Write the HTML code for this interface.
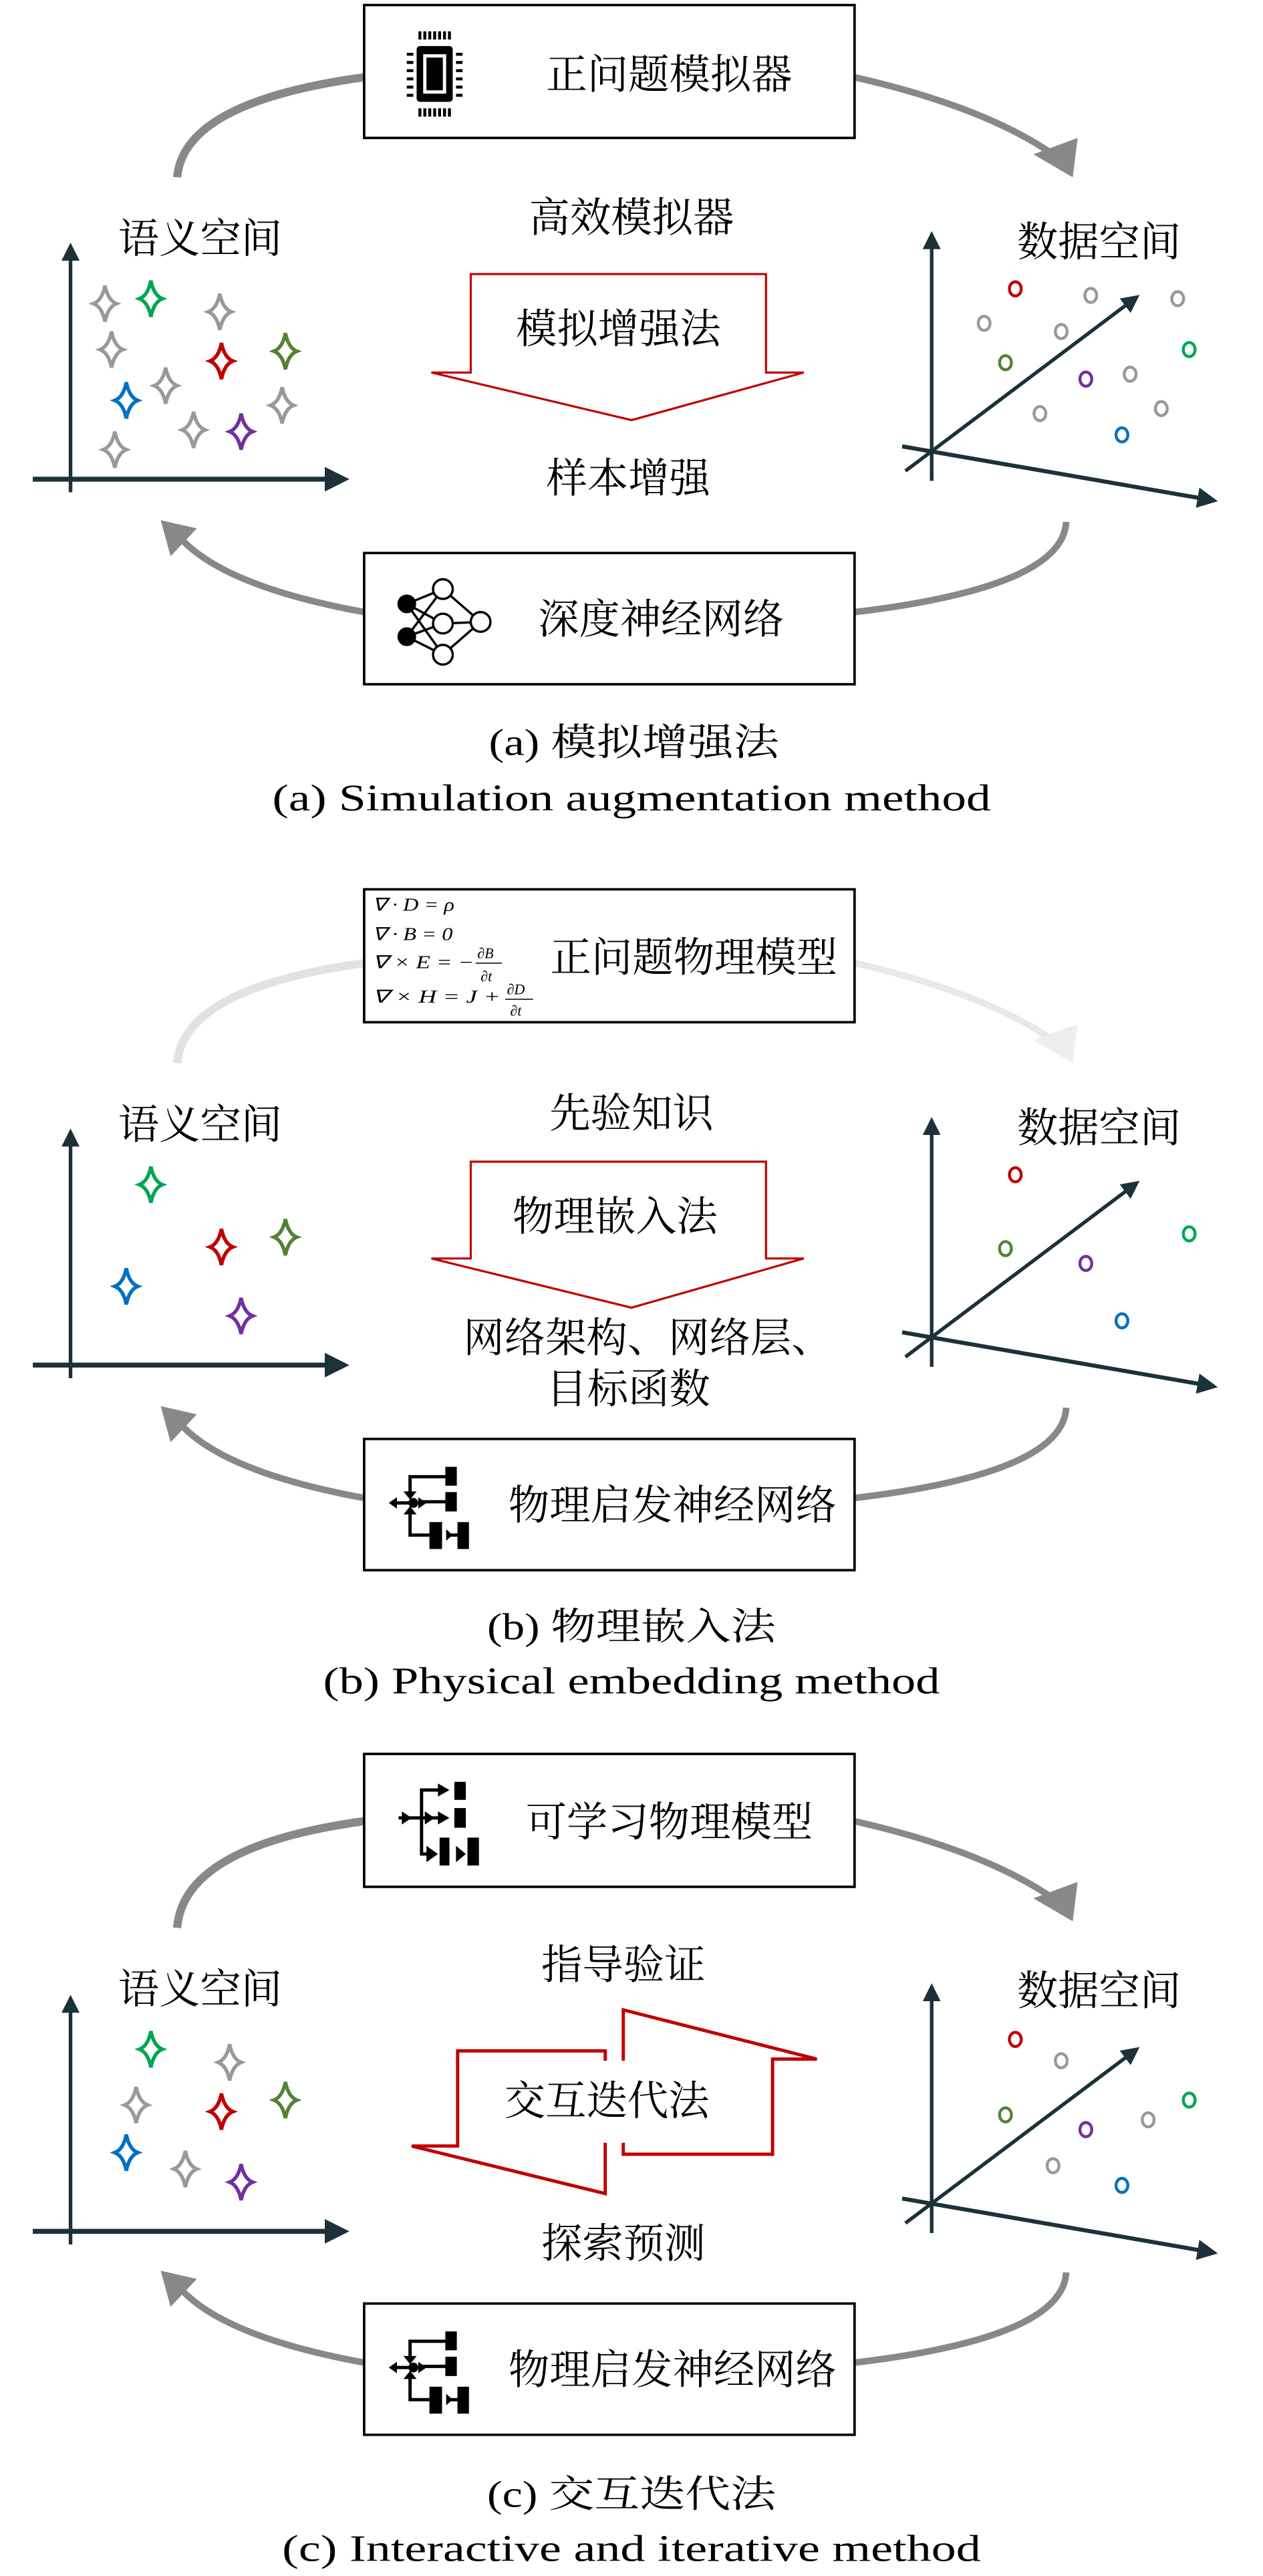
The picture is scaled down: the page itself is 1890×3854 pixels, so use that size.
<!DOCTYPE html>
<html><head><meta charset="utf-8"><style>
html,body{margin:0;padding:0;background:#fff}
svg{display:block}
.cn{font-family:"Noto Serif CJK SC","Liberation Serif","Noto Sans CJK SC",serif;fill:#000}
.cap{font-family:"Liberation Serif","Noto Serif CJK SC",serif;fill:#000}
.eq{font-family:"Liberation Serif",serif;font-style:italic;fill:#000}
</style></head><body>
<svg width="1890" height="3854" viewBox="0 0 770 1570" xmlns="http://www.w3.org/2000/svg">
<defs>
<path id="st" d="M0,-11 Q1.8,-2 7,0 Q1.8,2 0,11 Q-1.8,2 -7,0 Q-1.8,-2 0,-11Z" fill="#fff" stroke-width="2.2"/>
<marker id="ah" viewBox="0 0 10 10" refX="8" refY="5" markerWidth="5" markerHeight="5" orient="auto"><path d="M0,0 L10,5 L0,10Z" fill="#1c313a"/></marker>
<g id="pinn">
 <circle cx="0" cy="0" r="3" fill="#000"/>
 <rect x="19.5" y="-22" width="7" height="11.5" fill="#000"/>
 <rect x="19.5" y="-6.6" width="7" height="11.8" fill="#000"/>
 <rect x="9.8" y="11.7" width="7.7" height="16.4" fill="#000"/>
 <rect x="26.9" y="11.7" width="7" height="16.4" fill="#000"/>
 <path d="M19.5,-16 H-2 V-5 M19.5,-0.7 H4 M9.8,19.6 H-2 V4 M26.9,19.6 H21 M-2,0 H-13" stroke="#000" stroke-width="2" fill="none"/>
 <path d="M-6,-7 L2,-7 L-2,-2Z M3,-3.5 L3,3.5 L8,0Z M-6,7 L2,7 L-2,2Z M-10,-3.5 L-10,3.5 L-15,0Z M20,16 L20,23 L24,19.6Z" fill="#000"/>
</g>
<g id="axL"><line x1="43" y1="0" x2="43" y2="-150" stroke="#1c313a" stroke-width="2.2" marker-end="url(#ah)"/><line x1="20" y1="-8" x2="210" y2="-8" stroke="#1c313a" stroke-width="3" marker-end="url(#ah)"/></g>
<g id="axR"><line x1="568" y1="0" x2="568" y2="-150" stroke="#1c313a" stroke-width="2.2" marker-end="url(#ah)"/><line x1="552" y1="-6" x2="693" y2="-112" stroke="#1c313a" stroke-width="2.2" marker-end="url(#ah)"/><line x1="550" y1="-21" x2="740" y2="12" stroke="#1c313a" stroke-width="2.5" marker-end="url(#ah)"/></g>
</defs>
<rect width="770" height="1570" fill="#fff"/>

<!-- ========== PANEL A ========== -->
<g fill="none" stroke="#888" stroke-linecap="butt">
<path d="M108,108 Q112,62 222,47" stroke-width="5"/>
<path d="M521,47 Q600,65 642,94" stroke-width="4"/>
<path d="M650,318 Q648,358 521,373" stroke-width="4"/>
<path d="M222,373 Q140,358 112,330" stroke-width="4"/>
</g>
<path d="M630,94 L657,84 L654,108Z" fill="#888"/>
<path d="M98,317 L120,322 L104,339Z" fill="#888"/>
<rect x="222" y="3" width="299" height="81" fill="#fff" stroke="#000" stroke-width="1.5"/>
<g transform="translate(265,45)">
<rect x="-11" y="-17" width="22" height="34" rx="2" fill="#000"/><rect x="-7" y="-12" width="14" height="24" fill="#fff"/><rect x="-5" y="-10" width="10" height="20" fill="#000"/>
<path d="M-9,-21 V-26 M-6,-21 V-26 M-3,-21 V-26 M0,-21 V-26 M3,-21 V-26 M6,-21 V-26 M9,-21 V-26 M-9,21 V26 M-6,21 V26 M-3,21 V26 M0,21 V26 M3,21 V26 M6,21 V26 M9,21 V26 M-17,-12 H-13 M-17,-7 H-13 M-17,-2 H-13 M-17,3 H-13 M-17,8 H-13 M-17,13 H-13 M13,-12 H17 M13,-7 H17 M13,-2 H17 M13,3 H17 M13,8 H17 M13,13 H17" stroke="#000" stroke-width="1.8"/>
</g>
<text class="cn" x="408" y="54" font-size="25" text-anchor="middle">正问题模拟器</text>

<text class="cn" x="122" y="154" font-size="25" text-anchor="middle">语义空间</text>
<use href="#axL" transform="translate(0,300)"/>
<g stroke="#999"><use href="#st" x="64" y="185"/><use href="#st" x="68" y="213"/><use href="#st" x="101" y="235"/><use href="#st" x="134" y="190"/><use href="#st" x="172" y="247"/><use href="#st" x="118" y="262"/><use href="#st" x="70" y="274"/></g>
<use href="#st" x="92" y="182" stroke="#00a650"/><use href="#st" x="135" y="220" stroke="#c00000"/><use href="#st" x="174" y="214" stroke="#548235"/><use href="#st" x="77" y="244" stroke="#0070c0"/><use href="#st" x="147" y="263" stroke="#7030a0"/>

<text class="cn" x="670" y="156" font-size="25" text-anchor="middle">数据空间</text>
<use href="#axR" transform="translate(0,293)"/>
<g fill="none" stroke-width="1.8">
<g stroke="#999"><ellipse cx="665" cy="180" rx="3.6" ry="4.3"/><ellipse cx="718" cy="182" rx="3.6" ry="4.3"/><ellipse cx="600" cy="197" rx="3.6" ry="4.3"/><ellipse cx="647" cy="202" rx="3.6" ry="4.3"/><ellipse cx="689" cy="228" rx="3.6" ry="4.3"/><ellipse cx="708" cy="249" rx="3.6" ry="4.3"/><ellipse cx="634" cy="252" rx="3.6" ry="4.3"/></g>
<ellipse cx="619" cy="176" rx="3.6" ry="4.3" stroke="#c00000"/><ellipse cx="725" cy="213" rx="3.6" ry="4.3" stroke="#00a650"/><ellipse cx="613" cy="221" rx="3.6" ry="4.3" stroke="#548235"/><ellipse cx="662" cy="231" rx="3.6" ry="4.3" stroke="#7030a0"/><ellipse cx="684" cy="265" rx="3.6" ry="4.3" stroke="#0070c0"/>
</g>

<text class="cn" x="385" y="141" font-size="25" text-anchor="middle">高效模拟器</text>
<path d="M287,227 V167 H467 V227 H490 L385,256 L263,227Z" fill="#fff" stroke="#c00000" stroke-width="1.3"/>
<text class="cn" x="377" y="209" font-size="25" text-anchor="middle">模拟增强法</text>
<text class="cn" x="383" y="300" font-size="25" text-anchor="middle">样本增强</text>

<rect x="222" y="337" width="299" height="80" fill="#fff" stroke="#000" stroke-width="1.5"/>
<g transform="translate(270,380)" stroke="#000" stroke-width="1.4">
<path d="M-22,-12 L0,-21 M-22,-12 L0,0 M-22,-12 L0,19 M-22,8 L0,-21 M-22,8 L0,0 M-22,8 L0,19 M0,-21 L23,-1 M0,0 L23,-1 M0,19 L23,-1" fill="none"/>
<circle cx="-22" cy="-12" r="5" fill="#000"/><circle cx="-22" cy="8" r="5" fill="#000"/>
<circle cx="0" cy="-21" r="6" fill="#fff"/><circle cx="0" cy="0" r="6" fill="#fff"/><circle cx="0" cy="19" r="6" fill="#fff"/><circle cx="23" cy="-1" r="6" fill="#fff"/>
</g>
<text class="cn" x="403" y="386" font-size="25" text-anchor="middle">深度神经网络</text>
<text class="cap" x="298" y="460" font-size="23" textLength="177" lengthAdjust="spacingAndGlyphs">(a) 模拟增强法</text>
<text class="cap" x="166" y="494" font-size="23" textLength="438" lengthAdjust="spacingAndGlyphs">(a) Simulation augmentation method</text>

<!-- ========== PANEL B ========== -->
<g fill="none" stroke-linecap="butt">
<path d="M108,648 Q112,602 222,587" stroke="#e2e2e2" stroke-width="5"/>
<path d="M521,587 Q600,605 642,634" stroke="#e8e8e8" stroke-width="4"/>
<path d="M650,858 Q648,898 521,913" stroke="#888" stroke-width="4"/>
<path d="M222,913 Q140,898 112,870" stroke="#888" stroke-width="4"/>
</g>
<path d="M630,634 L657,624 L654,648Z" fill="#eee"/>
<path d="M98,857 L120,862 L104,879Z" fill="#888"/>
<rect x="222" y="542" width="299" height="81" fill="#fff" stroke="#000" stroke-width="1.5"/>
<g class="eq" font-size="11">
<text x="227" y="555" textLength="50" lengthAdjust="spacingAndGlyphs">∇ · D = ρ</text>
<text x="227" y="573" textLength="49" lengthAdjust="spacingAndGlyphs">∇ · B = 0</text>
<text x="227" y="590" textLength="62" lengthAdjust="spacingAndGlyphs">∇ × E = −</text>
<text x="291" y="584" font-size="9">∂B</text><line x1="290" y1="587" x2="306" y2="587" stroke="#000" stroke-width="0.6"/><text x="293" y="598" font-size="9">∂t</text>
<text x="227" y="611" textLength="78" lengthAdjust="spacingAndGlyphs">∇ × H = J +</text>
<text x="309" y="606" font-size="9">∂D</text><line x1="308" y1="609" x2="325" y2="609" stroke="#000" stroke-width="0.6"/><text x="311" y="619" font-size="9">∂t</text>
</g>
<text class="cn" x="423" y="592" font-size="25" text-anchor="middle">正问题物理模型</text>

<text class="cn" x="122" y="694" font-size="25" text-anchor="middle">语义空间</text>
<use href="#axL" transform="translate(0,840)"/>
<use href="#st" x="92" y="722" stroke="#00a650"/><use href="#st" x="135" y="760" stroke="#c00000"/><use href="#st" x="174" y="754" stroke="#548235"/><use href="#st" x="77" y="784" stroke="#0070c0"/><use href="#st" x="147" y="802" stroke="#7030a0"/>
<text class="cn" x="670" y="696" font-size="25" text-anchor="middle">数据空间</text>
<use href="#axR" transform="translate(0,833)"/>
<g fill="none" stroke-width="1.8">
<ellipse cx="619" cy="716" rx="3.6" ry="4.3" stroke="#c00000"/><ellipse cx="725" cy="752" rx="3.6" ry="4.3" stroke="#00a650"/><ellipse cx="613" cy="761" rx="3.6" ry="4.3" stroke="#548235"/><ellipse cx="662" cy="770" rx="3.6" ry="4.3" stroke="#7030a0"/><ellipse cx="684" cy="805" rx="3.6" ry="4.3" stroke="#0070c0"/>
</g>
<text class="cn" x="385" y="687" font-size="25" text-anchor="middle">先验知识</text>
<path d="M287,767 V708 H467 V767 H490 L385,797 L263,767Z" fill="#fff" stroke="#c00000" stroke-width="1.3"/>
<text class="cn" x="375" y="750" font-size="25" text-anchor="middle">物理嵌入法</text>
<text class="cn" x="395" y="824" font-size="25" text-anchor="middle">网络架构、网络层、</text>
<text class="cn" x="383" y="855" font-size="25" text-anchor="middle">目标函数</text>
<rect x="222" y="877" width="299" height="80" fill="#fff" stroke="#000" stroke-width="1.5"/>
<use href="#pinn" transform="translate(252,916)"/>
<text class="cn" x="410" y="926" font-size="25" text-anchor="middle">物理启发神经网络</text>
<text class="cap" x="297" y="999" font-size="23" textLength="176" lengthAdjust="spacingAndGlyphs">(b) 物理嵌入法</text>
<text class="cap" x="197" y="1032" font-size="23" textLength="376" lengthAdjust="spacingAndGlyphs">(b) Physical embedding method</text>

<!-- ========== PANEL C ========== -->
<g fill="none" stroke="#888" stroke-linecap="butt">
<path d="M108,1175 Q112,1125 222,1110" stroke-width="5"/>
<path d="M521,1110 Q600,1128 642,1157" stroke-width="4"/>
<path d="M650,1385 Q648,1425 521,1440" stroke-width="4"/>
<path d="M222,1440 Q140,1425 112,1397" stroke-width="4"/>
</g>
<path d="M630,1157 L657,1147 L654,1171Z" fill="#888"/>
<path d="M98,1384 L120,1389 L104,1406Z" fill="#888"/>
<rect x="222" y="1069" width="299" height="81" fill="#fff" stroke="#000" stroke-width="1.5"/>
<g>
<rect x="277" y="1086" width="7" height="11" fill="#000"/>
<rect x="277" y="1102" width="7" height="12" fill="#000"/>
<rect x="268" y="1120" width="6" height="17" fill="#000"/>
<rect x="285" y="1120" width="7" height="17" fill="#000"/>
<path d="M271,1091 H257 V1130 H262 M243,1108 H271" stroke="#000" stroke-width="2" fill="none"/>
<path d="M267,1087 L267,1095 L274,1091Z M267,1104 L267,1112 L274,1108Z M259,1104 L259,1112 L265,1108Z M245,1104 L245,1112 L251,1108Z M260,1125 L260,1135 L267,1130Z M278,1125 L278,1135 L284,1130Z" fill="#000"/>
</g>
<text class="cn" x="408" y="1119" font-size="25" text-anchor="middle">可学习物理模型</text>

<text class="cn" x="122" y="1221" font-size="25" text-anchor="middle">语义空间</text>
<use href="#axL" transform="translate(0,1368)"/>
<g stroke="#999"><use href="#st" x="140" y="1257"/><use href="#st" x="83" y="1283"/><use href="#st" x="113" y="1322"/></g>
<use href="#st" x="92" y="1249" stroke="#00a650"/><use href="#st" x="135" y="1287" stroke="#c00000"/><use href="#st" x="174" y="1280" stroke="#548235"/><use href="#st" x="77" y="1312" stroke="#0070c0"/><use href="#st" x="147" y="1330" stroke="#7030a0"/>
<text class="cn" x="670" y="1222" font-size="25" text-anchor="middle">数据空间</text>
<use href="#axR" transform="translate(0,1361)"/>
<g fill="none" stroke-width="1.8">
<g stroke="#999"><ellipse cx="647" cy="1256" rx="3.6" ry="4.3"/><ellipse cx="700" cy="1292" rx="3.6" ry="4.3"/><ellipse cx="642" cy="1320" rx="3.6" ry="4.3"/></g>
<ellipse cx="619" cy="1243" rx="3.6" ry="4.3" stroke="#c00000"/><ellipse cx="725" cy="1280" rx="3.6" ry="4.3" stroke="#00a650"/><ellipse cx="613" cy="1289" rx="3.6" ry="4.3" stroke="#548235"/><ellipse cx="662" cy="1298" rx="3.6" ry="4.3" stroke="#7030a0"/><ellipse cx="684" cy="1332" rx="3.6" ry="4.3" stroke="#0070c0"/>
</g>
<text class="cn" x="380" y="1206" font-size="25" text-anchor="middle">指导验证</text>
<g fill="none" stroke="#c00000" stroke-width="2">
<path d="M380,1256 L380,1225 L498,1255 L471,1255 L471,1313 L380,1313 L380,1306"/>
<path d="M369,1306 L369,1337 L251,1308 L279,1308 L279,1250 L369,1250 L369,1256"/>
</g>
<text class="cn" x="370" y="1289" font-size="25" text-anchor="middle">交互迭代法</text>
<text class="cn" x="380" y="1376" font-size="25" text-anchor="middle">探索预测</text>
<rect x="222" y="1404" width="299" height="80" fill="#fff" stroke="#000" stroke-width="1.5"/>
<use href="#pinn" transform="translate(252,1443)"/>
<text class="cn" x="410" y="1453" font-size="25" text-anchor="middle">物理启发神经网络</text>
<text class="cap" x="297" y="1528" font-size="23" textLength="176" lengthAdjust="spacingAndGlyphs">(c) 交互迭代法</text>
<text class="cap" x="172" y="1561" font-size="23" textLength="426" lengthAdjust="spacingAndGlyphs">(c) Interactive and iterative method</text>
</svg>
</body></html>
